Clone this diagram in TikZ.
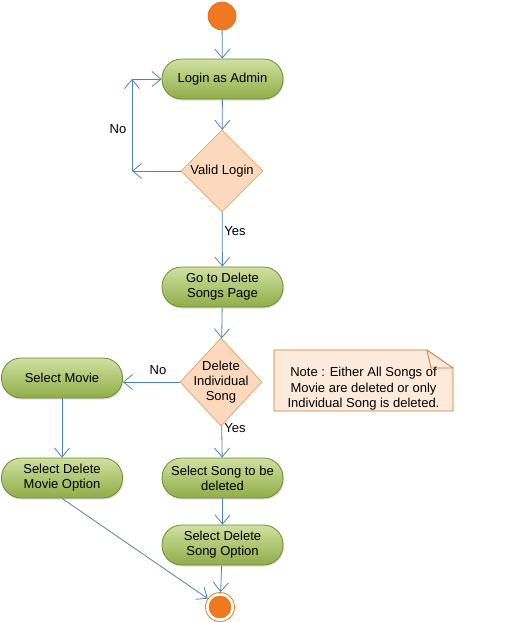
\documentclass[tikz,border=0pt]{standalone}
\usepackage{fontspec}
\setmainfont{Liberation Sans}
\usetikzlibrary{arrows.meta,shapes.geometric,shadows}
\definecolor{edgeblue}{HTML}{4F81BD}
\definecolor{actTop}{HTML}{D0E0A0}
\definecolor{actBot}{HTML}{8FAD48}
\definecolor{actBorder}{HTML}{6E8B33}
\definecolor{decFill}{HTML}{FCD9BD}
\definecolor{decBorder}{HTML}{E6A472}
\definecolor{startFill}{HTML}{F0781E}
\definecolor{startBorder}{HTML}{D86A1A}
\definecolor{noteFill}{HTML}{FDEADA}
\definecolor{noteBorder}{HTML}{C5782F}
\tikzset{
  actbox/.style={rounded corners=19.5pt, minimum width=121pt, minimum height=40pt,
    top color=actTop, bottom color=actBot, draw=actBorder, line width=0.8pt,
    align=center, font=\fontsize{13}{15}\selectfont, inner sep=1pt,
    drop shadow={shadow xshift=1pt,shadow yshift=-1.5pt,opacity=0.25}},
  decbox/.style={diamond, fill=decFill, draw=decBorder, line width=0.8pt,
    minimum width=82pt, minimum height=86pt, inner sep=-14pt, align=center,
    font=\fontsize{13}{15}\selectfont},
  flow/.style={draw=edgeblue, line width=0.8pt, -{Straight Barb[length=9pt,width=15pt]}},
  lbl/.style={font=\fontsize{13}{15}\selectfont, inner sep=0pt},
}
\begin{document}
\begin{tikzpicture}[x=1pt,y=-1pt]
\useasboundingbox (0,0) rectangle (529,622);
% start
\node[circle, minimum size=28pt, inner sep=0pt, fill=startFill, draw=startBorder, line width=0.6pt] (start) at (222,16) {};
% activities
\node[actbox] (login) at (222.5,79) {Login as Admin};
\node[decbox, minimum width=82pt, minimum height=82pt] (valid) at (222,171) {Valid Login};
\node[actbox] (goto) at (222.5,287) {Go to Delete\\Songs Page};
\node[decbox, minimum width=82pt, minimum height=88pt] (delind) at (221,382) {Delete\\Individual\\Song};
\node[actbox] (selmovie) at (62,378) {Select Movie};
\node[actbox] (selmovopt) at (62,478) {Select Delete\\Movie Option};
\node[actbox] (selsong) at (222.5,478) {Select Song to be\\deleted};
\node[actbox] (selsongopt) at (222.5,545) {Select Delete\\Song Option};
% end
\node[circle, minimum size=29pt, inner sep=0pt, draw=startFill, line width=0.8pt, fill=white] (end) at (220,607) {};
\fill[startFill] (end.center) circle (11pt);
\draw[startBorder, line width=0.4pt] (end.center) circle (11pt);
% note
\draw[noteBorder, fill=noteFill, line width=0.8pt] (274,350) -- (427,350) -- (453,368) -- (453,411) -- (274,411) -- cycle;
\draw[noteBorder, line width=0.8pt] (427,350) -- (431,368) -- (453,368);
\node[align=center, font=\fontsize{13}{15.5}\selectfont, inner sep=0pt] (note) at (363.5,389) {Note : Either All Songs of\\Movie are deleted or only\\Individual Song is deleted.};
% connectors
\coordinate (nobot) at (132,171);
\coordinate (notop) at (132,79);
\draw[flow] (start) -- (login);
\draw[flow] (login) -- (valid);
\draw[flow] (valid.west) -- (nobot);
\draw[flow] (nobot) -- (notop);
\draw[flow] (notop) -- (login.west);
\node[lbl] (nolbl) at (118,129) {No};
\draw[flow] (valid) -- (goto);
\node[lbl] (yeslbl) at (235,231) {Yes};
\draw[flow] (goto) -- (delind);
\draw[flow] (delind.west) -- (selmovie.east |- delind.west);
\node[lbl] (no2) at (158,370) {No};
\draw[flow] (delind) -- (selsong);
\node[lbl] (yes2) at (235,428) {Yes};
\draw[flow] (selmovie) -- (selmovopt);
\draw[flow] (selsong) -- (selsongopt);
\draw[flow] (selsongopt) -- (end);
\draw[flow] (selmovopt.south) -- (end);
\end{tikzpicture}
\end{document}
